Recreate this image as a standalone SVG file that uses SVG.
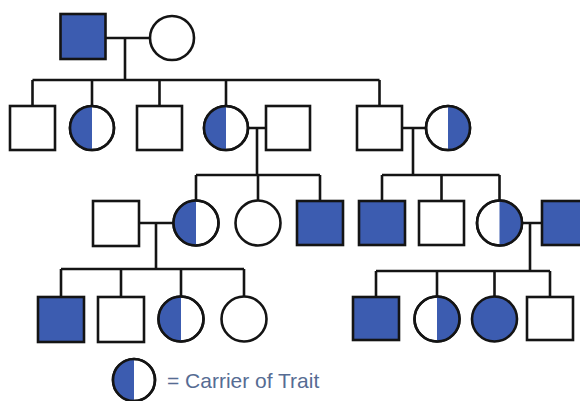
<svg xmlns="http://www.w3.org/2000/svg" width="580" height="401" viewBox="0 0 580 401">
<style>
.w{fill:#fff;stroke:#141414;stroke-width:2.6}
.f{fill:#3c5cb0;stroke:#141414;stroke-width:2.6}
.h{fill:#3c5cb0;stroke:none}
.o{fill:none;stroke:#141414;stroke-width:2.6}
.ln{fill:none;stroke:#141414;stroke-width:2.6}
.t{font-family:"Liberation Sans",Arial,sans-serif;font-size:21px;fill:#566c93}
</style>
<rect width="580" height="401" fill="#fff"/>
<g id="connectors" class="ln">
<path d="M106 38H150M125 38V80M32.5 80H379.5M32.5 80V106M92 80V106M159.5 80V106M226 80V106M379.5 80V106"/>
<path d="M248 128H266M257 128V175M196 175H320M196 175V201M258 175V201M320 175V201"/>
<path d="M402 128H426M413 128V175M382 175H499.5M382 175V201M441.5 175V201M499.5 175V201"/>
<path d="M139 223H174M156 223V269M61 269H244M61 269V297M121 269V297M181 269V297M244 269V297"/>
<path d="M522 223H542M530 223V271M376 271H550M376 271V297M437 271V297M494.5 271V297M550 271V297"/>
</g>
<g id="g1-father"><rect class="f" x="60.5" y="14" width="45" height="45"/></g>
<g id="g1-mother"><circle class="w" cx="172" cy="38" r="22"/></g>
<g id="g2-1"><rect class="w" x="10" y="106" width="45" height="44"/></g>
<g id="g2-2"><circle class="w" cx="92" cy="128" r="22"/><path class="h" d="M92 106A22 22 0 0 0 92 150Z"/><circle class="o" cx="92" cy="128" r="22"/></g>
<g id="g2-3"><rect class="w" x="137" y="106" width="45" height="44"/></g>
<g id="g2-4"><circle class="w" cx="226" cy="128" r="22"/><path class="h" d="M226 106A22 22 0 0 0 226 150Z"/><circle class="o" cx="226" cy="128" r="22"/></g>
<g id="g2-5"><rect class="w" x="266" y="106" width="44" height="44"/></g>
<g id="g2-6"><rect class="w" x="357" y="106" width="45" height="44"/></g>
<g id="g2-7"><circle class="w" cx="448" cy="128" r="22"/><path class="h" d="M448 106A22 22 0 0 1 448 150Z"/><circle class="o" cx="448" cy="128" r="22"/></g>
<g id="g3-1"><rect class="w" x="93" y="201" width="46" height="45"/></g>
<g id="g3-2"><circle class="w" cx="196" cy="223" r="22.5"/><path class="h" d="M196 200.5A22.5 22.5 0 0 0 196 245.5Z"/><circle class="o" cx="196" cy="223" r="22.5"/></g>
<g id="g3-3"><circle class="w" cx="258" cy="223" r="22.5"/></g>
<g id="g3-4"><rect class="f" x="297" y="201" width="46" height="44"/></g>
<g id="g3-5"><rect class="f" x="359" y="201" width="46" height="44"/></g>
<g id="g3-6"><rect class="w" x="419" y="201" width="45" height="44"/></g>
<g id="g3-7"><circle class="w" cx="499.5" cy="223" r="22.5"/><path class="h" d="M499.5 200.5A22.5 22.5 0 0 1 499.5 245.5Z"/><circle class="o" cx="499.5" cy="223" r="22.5"/></g>
<g id="g3-8"><rect class="f" x="542" y="201" width="46" height="44"/></g>
<g id="g4-1"><rect class="f" x="38" y="297" width="46" height="45"/></g>
<g id="g4-2"><rect class="w" x="98" y="297" width="46" height="45"/></g>
<g id="g4-3"><circle class="w" cx="181" cy="319" r="22.5"/><path class="h" d="M181 296.5A22.5 22.5 0 0 0 181 341.5Z"/><circle class="o" cx="181" cy="319" r="22.5"/></g>
<g id="g4-4"><circle class="w" cx="244" cy="319" r="22.5"/></g>
<g id="g4-5"><rect class="f" x="353" y="297" width="46" height="43"/></g>
<g id="g4-6"><circle class="w" cx="437" cy="319" r="22.5"/><path class="h" d="M437 296.5A22.5 22.5 0 0 1 437 341.5Z"/><circle class="o" cx="437" cy="319" r="22.5"/></g>
<g id="g4-7"><circle class="f" cx="494.5" cy="319" r="22.5"/></g>
<g id="g4-8"><rect class="w" x="527" y="297" width="46" height="43"/></g>
<g id="legend">
<circle class="w" cx="134" cy="380" r="21"/><path class="h" d="M134 359A21 21 0 0 0 134 401Z"/><circle class="o" cx="134" cy="380" r="21"/>
<text class="t" x="167" y="388">= Carrier of Trait</text>
</g>
</svg>
